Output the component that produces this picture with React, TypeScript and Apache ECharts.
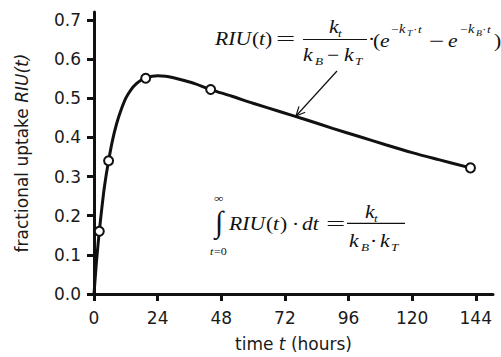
import React, { useEffect, useRef } from "react";
import * as echarts from "echarts";

// tick labels
const xTicks = [0, 24, 48, 72, 96, 120, 144];
const yTicks = [0, 0.1, 0.2, 0.3, 0.4, 0.5, 0.6, 0.7];

// measured points (hours, fractional uptake)
const measuredHours = [2, 5.5, 19.5, 44, 142];
const measuredUptake = [0.16, 0.34, 0.551, 0.522, 0.322];

// fitted curve
const curveHours = [0, 0.5, 1, 1.5, 2, 3, 4, 5.5, 7, 8.5, 10, 12, 14, 16, 18, 20, 22, 24, 27, 30, 34, 38, 44, 52, 60, 70, 80, 90, 100, 110, 120, 130, 142];
const curveUptake = [0, 0.045, 0.088, 0.125, 0.16, 0.222, 0.277, 0.34, 0.393, 0.434, 0.466, 0.5, 0.522, 0.537, 0.547, 0.553, 0.556, 0.557, 0.556, 0.552, 0.545, 0.537, 0.522, 0.505, 0.487, 0.466, 0.445, 0.423, 0.402, 0.381, 0.361, 0.343, 0.322];

const SERIF = "Liberation Serif";
const SANS = "DejaVu Sans";
const INK = "#111";
const LABEL = "#1a1a1a";

function tx(text: string, x: number, base: number, size: number, italic: boolean, sx = 1.2) {
  return {
    type: "text",
    x,
    y: base - 0.34 * size,
    scaleX: sx,
    silent: true,
    style: {
      text,
      fontFamily: SERIF,
      fontSize: size,
      fontStyle: italic ? "italic" : "normal",
      fill: INK,
      align: "left",
      verticalAlign: "middle",
    },
  };
}

function ln(x1: number, y1: number, x2: number, y2: number, w = 1.2) {
  return { type: "line", silent: true, shape: { x1, y1, x2, y2 }, style: { stroke: INK, lineWidth: w } };
}

export default function App() {
  const ref = useRef<HTMLDivElement>(null);
  useEffect(() => {
    if (!ref.current) return;
    const chart = echarts.init(ref.current, null, { renderer: "svg" });

    const graphic: any[] = [
      // formula 1
      tx("RIU", 215, 45, 18, true),
      tx("(", 252, 45, 18, false),
      tx("t", 259, 45, 18, true),
      tx(")", 265, 45, 18, false),
      tx("=", 276, 45, 18, false, 1.9),
      ln(303, 39.5, 367, 39.5),
      tx("k", 329, 33, 18, true),
      tx("t", 338, 37, 11, true),
      tx("k", 303, 61, 18, true),
      tx("B", 315, 65, 11, true),
      tx("\u2212", 327, 61, 18, false),
      tx("k", 344, 61, 18, true),
      tx("T", 355, 65, 11, true),
      tx("\u00b7", 368, 45, 18, false),
      tx("(", 373, 47, 18, false),
      tx("e", 380, 47, 18, true),
      tx("\u2212", 391, 33, 11, false),
      tx("k", 399, 33, 12, true),
      tx("T", 407, 36, 8, true),
      tx("\u00b7", 413, 33, 11, false),
      tx("t", 418, 33, 11, true),
      tx("\u2212", 429, 47, 18, false, 1.5),
      tx("e", 448, 47, 18, true),
      tx("\u2212", 460, 33, 11, false),
      tx("k", 468, 33, 12, true),
      tx("B", 476, 36, 8, true),
      tx("\u00b7", 482, 33, 11, false),
      tx("t", 487, 33, 11, true),
      tx(")", 494, 47, 18, false),
      // arrow
      ln(337, 71, 296, 116),
      {
        type: "polyline",
        silent: true,
        shape: { points: [[305.2, 112.2], [296, 116], [299, 106.4]] },
        style: { stroke: INK, lineWidth: 1.2, fill: null },
      },
      // formula 2
      tx("\u221e", 214, 202, 11, false),
      tx("\u222b", 215, 232, 30, false, 1),
      tx("t", 210, 255, 10, true),
      tx("=0", 214, 255, 10, false),
      tx("RIU", 229, 230, 18, true),
      tx("(", 266, 230, 18, false),
      tx("t", 273, 230, 18, true),
      tx(")", 280, 230, 18, false),
      tx("\u00b7", 292, 230, 18, false),
      tx("dt", 302, 230, 18, true),
      tx("=", 326, 230, 18, false, 1.9),
      ln(347, 223.3, 405, 223.3),
      tx("k", 365, 218, 18, true),
      tx("t", 374, 222, 11, true),
      tx("k", 349, 247, 18, true),
      tx("B", 361, 251, 11, true),
      tx("\u00b7", 370, 247, 18, false),
      tx("k", 380, 247, 18, true),
      tx("T", 391, 251, 11, true),
    ];

    chart.setOption({
      animation: false,
      backgroundColor: "#fff",
      grid: { left: 94, right: 8, top: 12, bottom: 60, containLabel: false },
      xAxis: {
        type: "value",
        min: 0,
        max: 150.5,
        splitLine: { show: false },
        axisLine: { show: true, onZero: false, lineStyle: { color: INK, width: 3 } },
        axisTick: { show: true, length: 7, customValues: xTicks, lineStyle: { color: INK, width: 3 } },
        axisLabel: {
          customValues: xTicks,
          margin: 15,
          fontFamily: SANS,
          fontSize: 17,
          color: LABEL,
        },
        name: "{n|time }{i|t}{n| (hours)}",
        nameLocation: "middle",
        nameGap: 41,
        nameTextStyle: {
          color: LABEL,
          rich: {
            n: { fontFamily: SANS, fontSize: 17, color: LABEL },
            i: { fontFamily: SANS, fontSize: 17, fontStyle: "italic", color: LABEL },
          },
        },
      },
      yAxis: {
        type: "value",
        min: 0,
        max: 0.72,
        splitLine: { show: false },
        axisLine: { show: true, onZero: false, lineStyle: { color: INK, width: 3 } },
        axisTick: { show: true, length: 7, customValues: yTicks, lineStyle: { color: INK, width: 3 } },
        axisLabel: {
          customValues: yTicks,
          margin: 13,
          fontFamily: SANS,
          fontSize: 17,
          color: LABEL,
          formatter: (v: number) => v.toFixed(1),
        },
        name: "{n|fractional uptake }{i|RIU(t)}",
        nameLocation: "middle",
        nameGap: 64,
        nameTextStyle: {
          color: LABEL,
          rich: {
            n: { fontFamily: SANS, fontSize: 17, color: LABEL },
            i: { fontFamily: SANS, fontSize: 17, fontStyle: "italic", color: LABEL },
          },
        },
      },
      series: [
        {
          type: "line",
          data: curveHours.map((h, i) => [h, curveUptake[i]]),
          smooth: 0.3,
          showSymbol: false,
          lineStyle: { color: INK, width: 3 },
          silent: true,
          z: 2,
        },
        {
          type: "scatter",
          data: measuredHours.map((h, i) => [h, measuredUptake[i]]),
          symbol: "circle",
          symbolSize: 9,
          itemStyle: { color: "#fff", borderColor: INK, borderWidth: 2, opacity: 1 },
          z: 3,
        },
      ],
      graphic: { elements: graphic },
    });
    return () => chart.dispose();
  }, []);
  return (
    <div
      ref={ref}
      style={{ position: "fixed", left: 0, top: 0, width: 501, height: 357, background: "#fff" }}
    />
  );
}
